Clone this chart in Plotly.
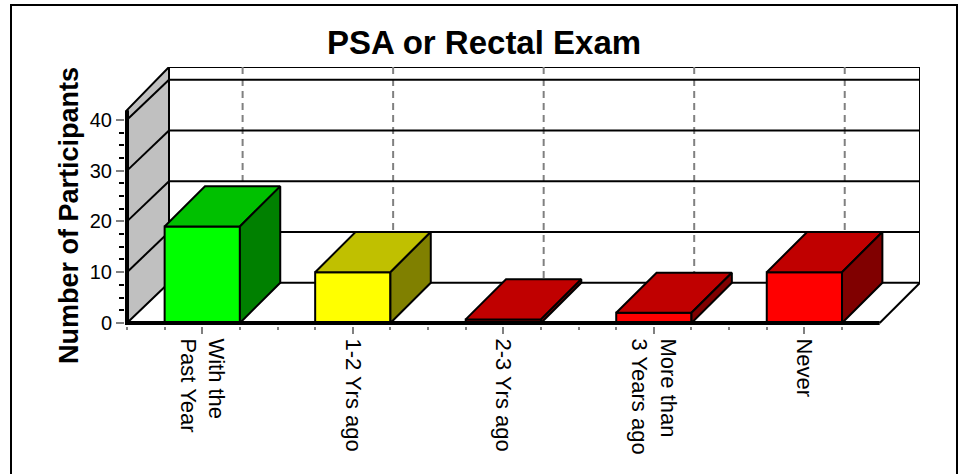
"""PSA or Rectal Exam: fake-3D bar chart drawn with plotly."""

import plotly.graph_objects as go

CATEGORIES = ["With the<br>Past Year", "1-2 Yrs ago", "2-3 Yrs ago", "More than<br>3 Years ago", "Never"]
POSITIONS = [0, 1, 2, 3, 4]
PARTICIPANTS = [19, 10, 0.7, 2, 10]

FRONT_COLORS = ["#00FF00", "#FFFF00", "#FF0000", "#FF0000", "#FF0000"]
TOP_COLORS = ["#00C000", "#C0C000", "#C00000", "#C00000", "#C00000"]
SIDE_COLORS = ["#008000", "#808000", "#800000", "#800000", "#800000"]

Y_TICKS = [0, 10, 20, 30, 40]
Y_MINOR_TICKS = [2.5, 5, 7.5, 12.5, 15, 17.5, 22.5, 25, 27.5, 32.5, 35, 37.5]
X_MINOR_TICKS = [-0.5, -0.25, 0.25, 0.5, 0.75, 1.25, 1.5, 1.75, 2.25, 2.5, 2.75, 3.25, 3.5, 3.75, 4.25]

BAR_WIDTH = 0.5
X_START = -0.5
X_END = 4.5
WALL_TOP = 41.9
BACK_TOP = 50.4
DEPTH_X = 0.268  # 40px along the category axis
WALL_DEPTH_X = 0.279
DEPTH_Y = 7.9  # 40px along the value axis

# Lines get clipped at the plot edge, so leave room for half the heavy axis stroke
X_PAD = 0.0133
Y_PAD = 0.6

# Plot area edges in page pixels, used to place the frame and the axis title
PLOT_LEFT = 125
PLOT_RIGHT = 920
PLOT_TOP = 67
PLOT_BOTTOM = 326

FONT = "Liberation Sans, Arial, sans-serif"


def _polygon(points: list[tuple[float, float]]) -> str:
    """SVG path for a closed polygon in data coordinates."""
    head, *rest = points
    return f"M {head[0]} {head[1]} " + " ".join(f"L {x} {y}" for x, y in rest) + " Z"


def _segment(x0, y0, x1, y1, color="black", width=2, dash="solid") -> dict:
    return dict(
        type="line", xref="x", yref="y", x0=x0, y0=y0, x1=x1, y1=y1,
        line=dict(color=color, width=width, dash=dash), layer="below",
    )


def _paper_x(px: float) -> float:
    return (px - PLOT_LEFT) / (PLOT_RIGHT - PLOT_LEFT)


def _paper_y(px: float) -> float:
    return (PLOT_BOTTOM - px) / (PLOT_BOTTOM - PLOT_TOP)


back_left = X_START + WALL_DEPTH_X
back_right = X_END + DEPTH_X

shapes = [
    # side wall
    dict(
        type="path", xref="x", yref="y", layer="below", fillcolor="#C0C0C0",
        path=_polygon([(X_START, 0), (back_left, DEPTH_Y), (back_left, BACK_TOP), (X_START, WALL_TOP)]),
        line=dict(color="black", width=2),
    ),
    _segment(back_left, BACK_TOP, back_right, BACK_TOP),
    _segment(back_right, BACK_TOP, back_right, DEPTH_Y),
    _segment(back_left, DEPTH_Y, back_right, DEPTH_Y),
    _segment(back_right, DEPTH_Y, X_END, 0),
]
for pos in POSITIONS:
    shapes.append(
        _segment(pos + DEPTH_X, BACK_TOP, pos + DEPTH_X, DEPTH_Y, color="#808080", dash="7px,5px")
    )
for tick in Y_TICKS[1:]:
    shapes.append(_segment(X_START, tick, back_left, tick + DEPTH_Y))
    shapes.append(_segment(back_left, tick + DEPTH_Y, back_right, tick + DEPTH_Y))

# Outer frame runs off the bottom of the page
shapes.append(
    dict(
        type="rect", xref="paper", yref="paper", layer="below",
        x0=_paper_x(11), x1=_paper_x(957), y0=_paper_y(490), y1=_paper_y(5),
        line=dict(color="black", width=2),
    )
)

fig = go.Figure()

# Front faces
fig.add_trace(
    go.Bar(
        x=POSITIONS,
        y=PARTICIPANTS,
        width=BAR_WIDTH,
        marker=dict(color=FRONT_COLORS, line=dict(color="black", width=2)),
        showlegend=False,
    )
)

# Top and side faces
half = BAR_WIDTH / 2
for pos, value, top, side in zip(POSITIONS, PARTICIPANTS, TOP_COLORS, SIDE_COLORS):
    left, right = pos - half, pos + half
    fig.add_trace(
        go.Scatter(
            x=[left, left + DEPTH_X, right + DEPTH_X, right, left],
            y=[value, value + DEPTH_Y, value + DEPTH_Y, value, value],
            mode="lines",
            fill="toself",
            fillcolor=top,
            line=dict(color="black", width=2),
            showlegend=False,
        )
    )
    fig.add_trace(
        go.Scatter(
            x=[right, right + DEPTH_X, right + DEPTH_X, right, right],
            y=[value, value + DEPTH_Y, DEPTH_Y, 0, value],
            mode="lines",
            fill="toself",
            fillcolor=side,
            line=dict(color="black", width=2),
            showlegend=False,
        )
    )

# Heavy front axis lines
fig.add_trace(
    go.Scatter(
        x=[X_START, X_START, X_END],
        y=[WALL_TOP, 0, 0],
        mode="lines",
        line=dict(color="black", width=4),
        showlegend=False,
    )
)

fig.update_xaxes(
    range=[X_START - X_PAD, back_right],
    tickmode="array",
    tickvals=POSITIONS,
    ticktext=CATEGORIES,
    tickangle=90,
    ticks="outside",
    ticklen=7,
    tickwidth=2,
    tickcolor="#808080",
    tickfont=dict(family=FONT, size=22, color="black"),
    showgrid=False,
    zeroline=False,
    showline=False,
    minor=dict(tickmode="array", tickvals=X_MINOR_TICKS, ticks="outside", ticklen=3, tickwidth=2, tickcolor="#808080"),
)
fig.update_yaxes(
    range=[-Y_PAD, BACK_TOP],
    tickmode="array",
    tickvals=Y_TICKS,
    ticks="outside",
    ticklen=8,
    tickwidth=2,
    tickcolor="#808080",
    tickfont=dict(family=FONT, size=20, color="black"),
    showgrid=False,
    zeroline=False,
    showline=False,
    minor=dict(tickmode="array", tickvals=Y_MINOR_TICKS, ticks="outside", ticklen=5, tickwidth=2, tickcolor="black"),
)

fig.update_layout(
    width=960,
    height=474,
    autosize=False,
    margin=dict(l=PLOT_LEFT, r=960 - PLOT_RIGHT, t=PLOT_TOP, b=474 - PLOT_BOTTOM, pad=0),
    paper_bgcolor="white",
    plot_bgcolor="white",
    showlegend=False,
    title=dict(
        text="<b>PSA or Rectal Exam</b>",
        font=dict(family=FONT, size=33, color="black"),
        x=484 / 960,
        xanchor="center",
        y=1 - 42 / 474,
        yanchor="middle",
    ),
    shapes=shapes,
    annotations=[
        dict(
            text="<b>Number of Participants</b>",
            textangle=-90,
            xref="paper", yref="paper",
            x=_paper_x(69),
            y=_paper_y(216),
            xanchor="center", yanchor="middle",
            showarrow=False,
            font=dict(family=FONT, size=27, color="black"),
        )
    ],
)

fig.write_html(
    "out.html",
    config={"displayModeBar": False},
    post_script="document.body.style.margin='0';document.body.style.overflow='hidden';",
)
